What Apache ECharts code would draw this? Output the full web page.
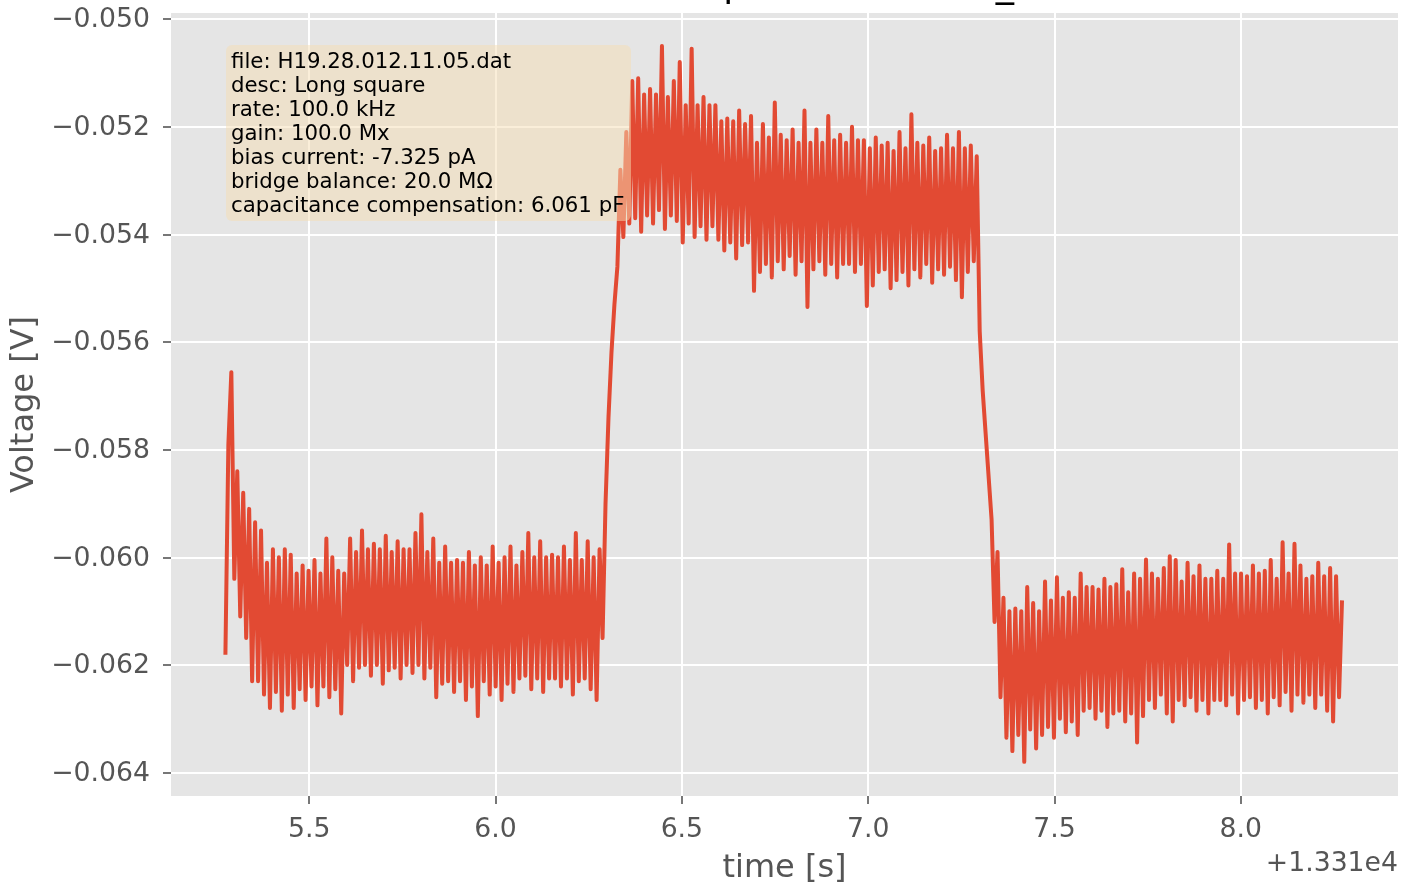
<!DOCTYPE html>
<html><head><meta charset="utf-8">
<script src="https://cdn.jsdelivr.net/npm/echarts@6/dist/echarts.min.js"></script>
<style>html,body{margin:0;padding:0;background:#fff}#c{width:1413px;height:885px}</style>
</head><body><div id="c"></div>
<script>
// ---- data ----
const timeOffset = 13310;          // axis offset shown as "+1.331e4"
const startTime = 13315.275;       // s, first sample
const samplePeriod = 0.00797;      // s between plotted samples
const voltage = [
-0.06181,-0.05790,-0.05656,-0.06040,-0.05840,-0.06110,-0.05880,-0.06150,-0.05910,-0.06230,
-0.05935,-0.06230,-0.05950,-0.06255,-0.06010,-0.06280,-0.05985,-0.06250,-0.06000,-0.06285,
-0.05985,-0.06255,-0.05995,-0.06280,-0.06030,-0.06245,-0.06015,-0.06265,-0.06025,-0.06240,
-0.06005,-0.06275,-0.06030,-0.06240,-0.05965,-0.06260,-0.06000,-0.06245,-0.06025,-0.06290,
-0.06030,-0.06200,-0.05965,-0.06230,-0.05990,-0.06205,-0.05950,-0.06200,-0.05985,-0.06220,
-0.05975,-0.06200,-0.05985,-0.06235,-0.05960,-0.06210,-0.05990,-0.06205,-0.05970,-0.06225,
-0.05985,-0.06200,-0.05985,-0.06215,-0.05955,-0.06200,-0.05920,-0.06225,-0.05990,-0.06205,
-0.05965,-0.06260,-0.06010,-0.06235,-0.05980,-0.06230,-0.06010,-0.06250,-0.06005,-0.06230,
-0.06010,-0.06265,-0.05990,-0.06240,-0.06015,-0.06295,-0.06000,-0.06230,-0.06015,-0.06255,
-0.05980,-0.06240,-0.06010,-0.06265,-0.06000,-0.06235,-0.05980,-0.06250,-0.06015,-0.06225,
-0.05990,-0.06220,-0.05955,-0.06245,-0.06000,-0.06225,-0.05970,-0.06250,-0.06000,-0.06225,
-0.05995,-0.06225,-0.06000,-0.06240,-0.05980,-0.06225,-0.06005,-0.06255,-0.05955,-0.06230,
-0.06005,-0.06225,-0.05970,-0.06245,-0.06000,-0.06265,-0.05985,-0.06150,-0.05900,-0.05740,
-0.05620,-0.05530,-0.05460,-0.05280,-0.05405,-0.05210,-0.05380,-0.05115,-0.05370,-0.05110,
-0.05395,-0.05140,-0.05365,-0.05130,-0.05380,-0.05140,-0.05355,-0.05050,-0.05390,-0.05145,
-0.05365,-0.05115,-0.05375,-0.05080,-0.05415,-0.05160,-0.05380,-0.05055,-0.05405,-0.05160,
-0.05385,-0.05145,-0.05410,-0.05160,-0.05385,-0.05160,-0.05410,-0.05190,-0.05430,-0.05185,
-0.05415,-0.05190,-0.05445,-0.05170,-0.05420,-0.05195,-0.05415,-0.05180,-0.05505,-0.05230,
-0.05470,-0.05195,-0.05455,-0.05220,-0.05480,-0.05155,-0.05450,-0.05215,-0.05465,-0.05225,
-0.05440,-0.05205,-0.05475,-0.05230,-0.05450,-0.05170,-0.05535,-0.05230,-0.05465,-0.05205,
-0.05450,-0.05230,-0.05475,-0.05180,-0.05455,-0.05225,-0.05480,-0.05215,-0.05455,-0.05230,
-0.05455,-0.05200,-0.05470,-0.05225,-0.05455,-0.05225,-0.05533,-0.05240,-0.05495,-0.05220,
-0.05470,-0.05235,-0.05465,-0.05230,-0.05500,-0.05245,-0.05485,-0.05210,-0.05470,-0.05240,
-0.05495,-0.05177,-0.05465,-0.05230,-0.05480,-0.05235,-0.05455,-0.05220,-0.05490,-0.05245,
-0.05465,-0.05240,-0.05475,-0.05215,-0.05460,-0.05240,-0.05485,-0.05210,-0.05517,-0.05240,
-0.05470,-0.05235,-0.05450,-0.05255,-0.05580,-0.05690,-0.05770,-0.05850,-0.05930,-0.06120,
-0.05990,-0.06260,-0.06075,-0.06335,-0.06100,-0.06360,-0.06095,-0.06330,-0.06100,-0.06380,
-0.06055,-0.06320,-0.06085,-0.06355,-0.06100,-0.06330,-0.06045,-0.06315,-0.06080,-0.06335,
-0.06037,-0.06300,-0.06075,-0.06325,-0.06065,-0.06305,-0.06075,-0.06330,-0.06030,-0.06285,
-0.06055,-0.06280,-0.06055,-0.06300,-0.06060,-0.06285,-0.06040,-0.06315,-0.06055,-0.06290,
-0.06050,-0.06285,-0.06022,-0.06305,-0.06065,-0.06290,-0.06030,-0.06344,-0.06040,-0.06295,
-0.06004,-0.06265,-0.06030,-0.06280,-0.06040,-0.06255,-0.06020,-0.06290,-0.05998,-0.06305,
-0.06005,-0.06265,-0.06045,-0.06275,-0.06010,-0.06260,-0.06035,-0.06285,-0.06015,-0.06265,
-0.06040,-0.06290,-0.06040,-0.06265,-0.06025,-0.06265,-0.06040,-0.06275,-0.05976,-0.06255,
-0.06030,-0.06290,-0.06030,-0.06265,-0.06035,-0.06260,-0.06015,-0.06280,-0.06030,-0.06265,
-0.06025,-0.06290,-0.06005,-0.06260,-0.06040,-0.06275,-0.05972,-0.06250,-0.06030,-0.06285,
-0.05975,-0.06255,-0.06015,-0.06270,-0.06040,-0.06255,-0.06035,-0.06280,-0.06010,-0.06255,
-0.06035,-0.06285,-0.06020,-0.06305,-0.06035,-0.06260,-0.06080
];
const xTicks = [13315.5, 13316.0, 13316.5, 13317.0, 13317.5, 13318.0];
const yTicks = [-0.064, -0.062, -0.060, -0.058, -0.056, -0.054, -0.052, -0.050];
const annotationLines = [
  'file: H19.28.012.11.05.dat',
  'desc: Long square',
  'rate: 100.0 kHz',
  'gain: 100.0 Mx',
  'bias current: -7.325 pA',
  'bridge balance: 20.0 MΩ',
  'capacitance compensation: 6.061 pF'
];
const titleText = 'Cell 12 current step trace H19.28_012.11.05';
const xLabel = 'time [s]';
const yLabel = 'Voltage [V]';
const offsetLabel = '+1.331e4';

// ---- chart ----
const FONT = 'DejaVu Sans';
const TXT = '#555555';
const chart = echarts.init(document.getElementById('c'), null, {renderer: 'canvas'});
const points = voltage.map((v, i) => [startTime + i * samplePeriod, v]);
chart.setOption({
  animation: false,
  backgroundColor: '#ffffff',
  grid: {left: 171, top: 13, right: 15, bottom: 89, show: true, backgroundColor: '#E5E5E5', borderWidth: 0,
         containLabel: false, outerBoundsMode: 'none'},
  xAxis: {
    type: 'value', min: 13315.129, max: 13318.422,
    axisLine: {show: false},
    axisTick: {show: true, customValues: xTicks, length: 8, lineStyle: {color: TXT, width: 1.6}},
    axisLabel: {customValues: xTicks, formatter: v => (v - timeOffset).toFixed(1), color: TXT, fontSize: 26.7, fontFamily: FONT, margin: 21},
    splitLine: {show: true, lineStyle: {color: '#ffffff', width: 2}},
    name: xLabel, nameLocation: 'middle', nameGap: 57,
    nameTextStyle: {color: TXT, fontSize: 32, fontFamily: FONT}
  },
  yAxis: {
    type: 'value', min: -0.064434, max: -0.049888,
    axisLine: {show: false},
    axisTick: {show: true, customValues: yTicks, length: 8, lineStyle: {color: TXT, width: 1.6}},
    axisLabel: {customValues: yTicks, formatter: v => v.toFixed(3).replace('-', '\u2212'), color: TXT, fontSize: 26.7, fontFamily: FONT, margin: 21,
                verticalAlign: 'top', lineHeight: 3},
    splitLine: {show: true, lineStyle: {color: '#ffffff', width: 2}},
    name: yLabel, nameLocation: 'middle', nameGap: 125,
    nameTextStyle: {color: TXT, fontSize: 32, fontFamily: FONT}
  },
  series: [{
    type: 'line', data: points, showSymbol: false, sampling: false, silent: true,
    lineStyle: {color: '#E24A33', width: 4, join: 'round'}
  }],
  graphic: [
    {type: 'text', x: 793, y: 5, z: 50,
     style: {text: titleText, fontSize: 36.5, fontFamily: FONT, fill: '#000000', align: 'center', textAlign: 'center', verticalAlign: 'bottom', textVerticalAlign: 'bottom'}},
    {type: 'rect', z: 100, shape: {x: 226, y: 45, width: 405, height: 176, r: 6},
     style: {fill: 'rgba(245,222,179,0.5)'}},
    {type: 'text', x: 231, y: 50, z: 101,
     style: {text: annotationLines.join('\n'), fontSize: 21.3, fontFamily: FONT, lineHeight: 24, fill: '#000000', verticalAlign: 'top', textVerticalAlign: 'top'}},
    {type: 'text', x: 1398, y: 864, z: 50,
     style: {text: offsetLabel, fontSize: 26.7, fontFamily: FONT, fill: TXT, align: 'right', textAlign: 'right', verticalAlign: 'middle', textVerticalAlign: 'middle'}}
  ]
});
</script></body></html>
